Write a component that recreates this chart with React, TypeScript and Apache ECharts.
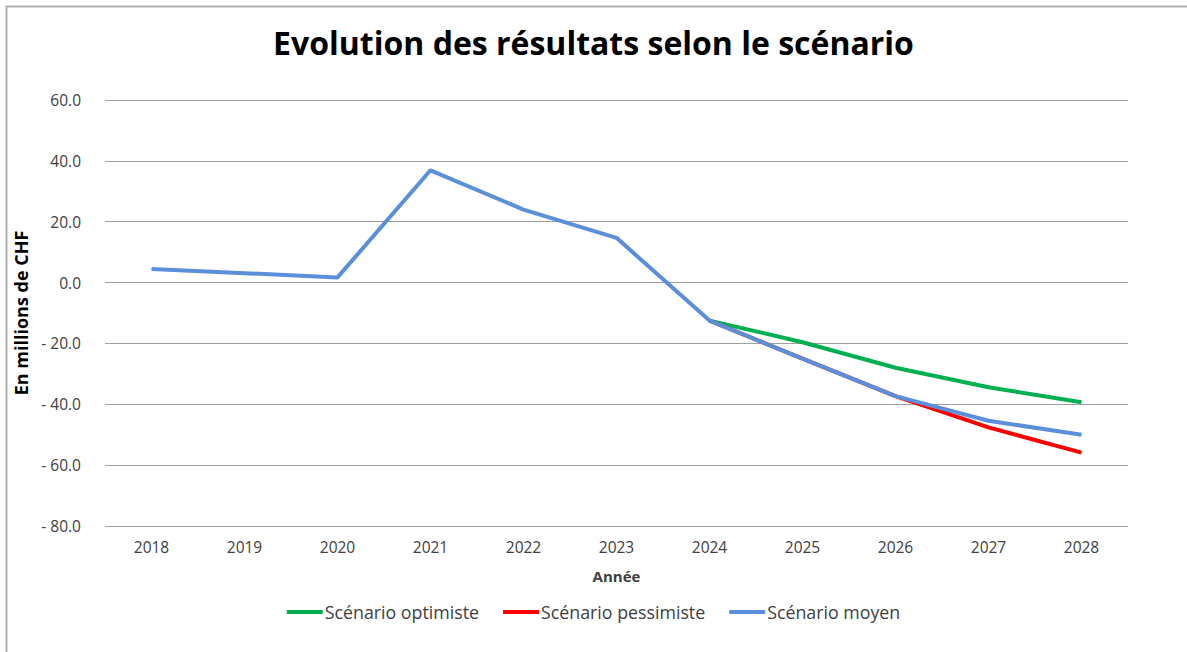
import React, { useEffect, useRef } from "react";
import * as echarts from "echarts";

const years = ["2018", "2019", "2020", "2021", "2022", "2023", "2024", "2025", "2026", "2027", "2028"];
const optimiste = [null, null, null, null, null, null, -12.5, -19.6, -28.0, -34.4, -39.3];
const pessimiste = [null, null, null, null, null, null, -12.5, -25.0, -37.3, -47.6, -55.9];
const moyen = [4.5, 3.1, 1.7, 36.9, 24.0, 14.7, -12.5, -25.0, -37.3, -45.4, -50.0];

const FONT = "'Open Sans', 'Noto Sans', sans-serif";

export default function App() {
  const ref = useRef<HTMLDivElement>(null);
  useEffect(() => {
    const chart = echarts.init(ref.current!, undefined, { renderer: "svg" });
    chart.setOption({
      animation: false,
      backgroundColor: "#ffffff",
      title: {
        text: "Evolution des résultats selon le scénario",
        left: "center",
        top: 21,
        textStyle: { fontFamily: FONT, fontSize: 32, fontWeight: "bold", color: "#000" },
      },
      graphic: [
        {
          type: "polyline",
          shape: { points: [[6.5, 652], [6.5, 6.5], [1187, 6.5]] },
          style: { stroke: "#b0b0b0", lineWidth: 2, fill: "none" },
        },
      ],
      grid: { left: 105, right: 59, top: 100, bottom: 126, containLabel: false },
      legend: {
        top: 598,
        left: "center",
        itemWidth: 36,
        itemHeight: 4,
        itemGap: 24,
        icon: "rect",
        textStyle: { fontFamily: FONT, fontSize: 17.8, color: "#404040", padding: [0, 0, 0, -3] },
        data: ["Scénario optimiste", "Scénario pessimiste", "Scénario moyen"],
      },
      xAxis: {
        type: "category",
        data: years,
        boundaryGap: true,
        name: "Année",
        nameLocation: "middle",
        nameGap: 42,
        nameTextStyle: { fontFamily: FONT, fontSize: 15, fontWeight: "bold", color: "#404040" },
        axisLine: { show: false },
        axisTick: { show: false },
        axisLabel: { fontFamily: FONT, fontSize: 15.5, color: "#404040", margin: 13 },
      },
      yAxis: {
        type: "value",
        min: -80,
        max: 60,
        interval: 20,
        name: "En millions de CHF",
        nameLocation: "middle",
        nameGap: 74,
        nameTextStyle: { fontFamily: FONT, fontSize: 18, fontWeight: "bold", color: "#000" },
        axisLine: { show: false },
        axisTick: { show: false },
        splitLine: { lineStyle: { color: "#a0a0a0", width: 1 } },
        axisLabel: {
          fontFamily: FONT,
          fontSize: 15.5,
          color: "#404040",
          margin: 24,
          formatter: (v: number) => (v < 0 ? "- " + Math.abs(v).toFixed(1) : v.toFixed(1)),
        },
      },
      series: [
        {
          name: "Scénario optimiste",
          type: "line",
          data: optimiste,
          showSymbol: false,
          symbol: "none",
          lineStyle: { color: "#00B050", width: 4 },
          itemStyle: { color: "#00B050" },
        },
        {
          name: "Scénario pessimiste",
          type: "line",
          data: pessimiste,
          showSymbol: false,
          symbol: "none",
          lineStyle: { color: "#FF0000", width: 4 },
          itemStyle: { color: "#FF0000" },
        },
        {
          name: "Scénario moyen",
          type: "line",
          data: moyen,
          showSymbol: false,
          symbol: "none",
          lineStyle: { color: "#5A8FD9", width: 4 },
          itemStyle: { color: "#5A8FD9" },
        },
      ],
    });
    return () => chart.dispose();
  }, []);
  return (
    <div style={{ position: "fixed", left: 0, top: 0, width: 1187, height: 652 }}>
      <div ref={ref} style={{ width: 1187, height: 652 }} />
    </div>
  );
}
